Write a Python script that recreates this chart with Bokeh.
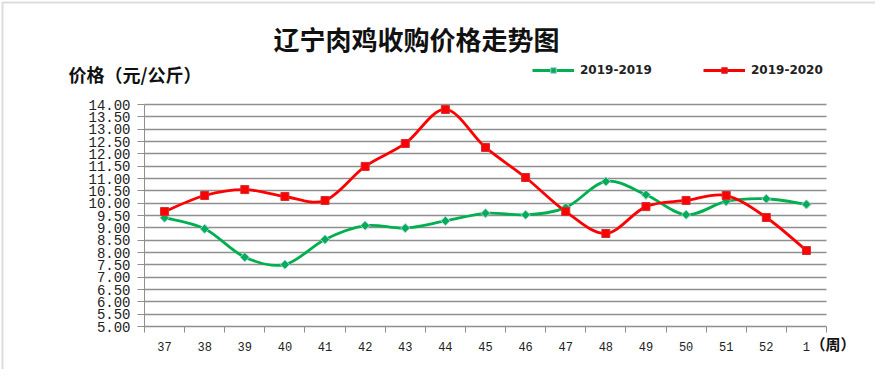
import math
from bokeh.plotting import figure
from bokeh.models import (Range1d, FixedTicker, Label, Legend, LegendItem,
                          ColumnDataSource, BoxAnnotation)
from bokeh.embed import file_html
from bokeh.resources import INLINE

# ---- data ----
weeks = ["37", "38", "39", "40", "41", "42", "43", "44", "45", "46",
         "47", "48", "49", "50", "51", "52", "1"]
price_2019_2019 = [9.41, 8.96, 7.81, 7.51, 8.53, 9.09, 8.99, 9.28, 9.59,
                   9.53, 9.82, 10.88, 10.34, 9.53, 10.07, 10.18, 9.95]
price_2019_2020 = [9.66, 10.31, 10.55, 10.27, 10.11, 11.49, 12.42, 13.80,
                   12.26, 11.04, 9.66, 8.77, 9.86, 10.11, 10.31, 9.42, 8.08]
y_ticks = [5.0 + 0.5 * i for i in range(19)]
Y_MIN, Y_MAX = 5.0, 14.0

GREEN = "#00b050"
RED = "#ff0000"
GRAY = "#8f8f8f"

# ---- layout (pixels) ----
W, H = 875, 369
AX_L, AX_R = 144.0, 826.0      # plot area left / right
AX_T, AX_B = 104.0, 326.0      # y=14 / y=5
n = len(weeks)
px_x = (AX_R - AX_L) / n
px_y = (AX_B - AX_T) / (Y_MAX - Y_MIN)


def dx(px):  # canvas pixel -> data x
    return -0.5 + (px - AX_L) / px_x


def dy(py):  # canvas pixel -> data y
    return Y_MAX - (py - AX_T) / px_y


p = figure(width=W, height=H, output_backend="svg", toolbar_location=None,
           x_range=Range1d(dx(0), dx(W)), y_range=Range1d(dy(H), dy(0)))
p.min_border = 0
p.min_border_left = p.min_border_right = p.min_border_top = p.min_border_bottom = 0
p.outline_line_color = None
p.background_fill_color = "white"
p.border_fill_color = "white"

xs = list(range(n))

# x axis (drawn at y=5)
p.xaxis.fixed_location = Y_MIN
p.xaxis.bounds = (-0.5, n - 0.5)
p.xaxis.ticker = FixedTicker(ticks=xs, minor_ticks=[i - 0.5 for i in range(n + 1)])
p.xaxis.major_label_overrides = {i: w for i, w in enumerate(weeks)}
p.xaxis.major_tick_line_color = None
p.xaxis.minor_tick_line_color = GRAY
p.xaxis.minor_tick_out = 6
p.xaxis.minor_tick_in = 0
p.xaxis.axis_line_color = GRAY
p.xaxis.major_label_text_font = "Liberation Mono"
p.xaxis.major_label_text_font_size = "12px"
p.xaxis.major_label_text_color = "#222222"
p.xaxis.major_label_standoff = 9

# y axis (drawn at x=-0.5)
p.yaxis.fixed_location = -0.5
p.yaxis.bounds = (Y_MIN, Y_MAX)
p.yaxis.ticker = FixedTicker(ticks=y_ticks)
p.yaxis.major_label_overrides = {t: "%.2f" % t for t in y_ticks}
p.yaxis.minor_tick_line_color = None
p.yaxis.major_tick_line_color = GRAY
p.yaxis.major_tick_out = 7
p.yaxis.major_tick_in = 0
p.yaxis.axis_line_color = GRAY
p.yaxis.major_label_text_font = "Liberation Mono"
p.yaxis.major_label_text_font_size = "14px"
p.yaxis.major_label_text_color = "#222222"
p.yaxis.major_label_standoff = 7

p.xgrid.grid_line_color = None
p.ygrid.ticker = FixedTicker(ticks=y_ticks)
p.ygrid.bounds = (Y_MIN, Y_MAX)
p.ygrid.cross_bounds = (-0.5, n - 0.5)
p.ygrid.grid_line_color = GRAY
p.ygrid.grid_line_width = 1.4

# outer chart border (left and top edges visible)
p.add_layout(BoxAnnotation(left=dx(2), right=dx(887), top=dy(2), bottom=dy(381),
                           fill_alpha=0, line_color="#8a8a8a", line_width=2))


def bezier_source(xv, yv):
    """Smooth (Catmull-Rom style) bezier segments through the data points."""
    m = len(xv)
    d = dict(x0=[], y0=[], x1=[], y1=[], cx0=[], cy0=[], cx1=[], cy1=[])
    for i in range(m - 1):
        ip, inn = max(i - 1, 0), min(i + 2, m - 1)
        d["x0"].append(xv[i]); d["y0"].append(yv[i])
        d["x1"].append(xv[i + 1]); d["y1"].append(yv[i + 1])
        d["cx0"].append(xv[i] + (xv[i + 1] - xv[ip]) / 6.0)
        d["cy0"].append(yv[i] + (yv[i + 1] - yv[ip]) / 6.0)
        d["cx1"].append(xv[i + 1] - (xv[inn] - xv[i]) / 6.0)
        d["cy1"].append(yv[i + 1] - (yv[inn] - yv[i]) / 6.0)
    return ColumnDataSource(d)


g_curve = p.bezier(x0="x0", y0="y0", x1="x1", y1="y1", cx0="cx0", cy0="cy0",
                   cx1="cx1", cy1="cy1", source=bezier_source(xs, price_2019_2019),
                   line_color=GREEN, line_width=2.8)
g_pts = p.scatter(xs, price_2019_2019, marker="square", size=6.5,
                  angle=math.pi / 4, fill_color=GREEN, line_color="#a8c8e8",
                  line_width=1)

r_curve = p.bezier(x0="x0", y0="y0", x1="x1", y1="y1", cx0="cx0", cy0="cy0",
                   cx1="cx1", cy1="cy1", source=bezier_source(xs, price_2019_2020),
                   line_color=RED, line_width=2.8)
r_pts = p.scatter(xs, price_2019_2020, marker="square", size=8,
                  fill_color=RED, line_color="#d03030", line_width=1)

# legends (two separate ones to place them like the reference)
for lbl, rends, xloc in [("2019-2019", [g_curve, g_pts], 532),
                         ("2019-2020", [r_curve, r_pts], 703)]:
    lg = Legend(items=[LegendItem(label=lbl, renderers=rends)],
                location=(xloc, H - 77), orientation="horizontal",
                glyph_width=42, glyph_height=14, label_standoff=6,
                padding=0, margin=0, border_line_color=None,
                background_fill_alpha=0, label_text_font="DejaVu Sans",
                label_text_font_style="bold", label_text_font_size="12px",
                label_text_color="#222222", label_height=14)
    p.add_layout(lg, "center")

# texts (screen units measured from the bottom-left corner)
p.add_layout(Label(x=416, y=H - 38, x_units="screen", y_units="screen",
                   text="辽宁肉鸡收购价格走势图", text_align="center",
                   text_baseline="middle", text_font="Noto Sans CJK SC",
                   text_font_style="bold", text_font_size="26px",
                   text_color="#111111"))
p.add_layout(Label(x=68, y=H - 73, x_units="screen", y_units="screen",
                   text="价格（元/公斤）", text_align="left",
                   text_baseline="middle", text_font="Noto Sans CJK SC",
                   text_font_style="bold", text_font_size="18px",
                   text_color="#111111"))
p.add_layout(Label(x=810, y=H - 343, x_units="screen", y_units="screen",
                   text="（周）", text_align="left",
                   text_baseline="middle", text_font="Noto Sans CJK SC",
                   text_font_style="bold", text_font_size="15px",
                   text_color="#111111"))

open("out.html", "w").write(file_html(p, INLINE))
